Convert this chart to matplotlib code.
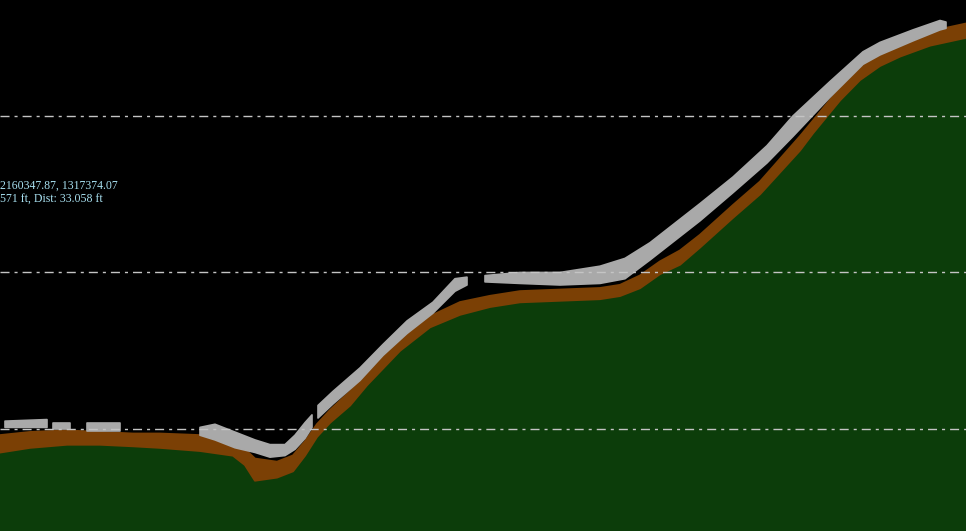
import numpy as np
import matplotlib
matplotlib.use('Agg')
import matplotlib.pyplot as plt

## Profile data (distance along section in ft, elevation in ft)
dist = [0.0, 3.0, 6.7, 10.0, 13.3, 16.0, 20.0, 23.3, 24.5, 25.5, 27.7, 29.3, 30.5,
        31.7, 33.0, 35.0, 36.7, 40.0, 43.0, 46.0, 49.0, 52.0, 56.0, 60.0, 62.0, 64.0,
        66.0, 68.0, 70.0, 73.3, 76.0, 80.0, 81.3, 84.0, 86.0, 88.0, 90.0, 93.0, 96.6]

# top of the terrain surface (green)
ground = [558.5, 558.8, 559.0, 559.0, 558.9, 558.8, 558.6, 558.3, 557.7, 556.7, 556.9,
          557.3, 558.3, 559.5, 560.4, 561.5, 562.8, 565.0, 566.5, 567.3, 567.8, 568.1,
          568.2, 568.3, 568.5, 569.0, 569.9, 570.5, 571.6, 573.5, 575.0, 577.8, 578.9,
          581.0, 582.3, 583.2, 583.8, 584.5, 585.0]

# top of the ground-classified points (brown)
ground_pts_top = [559.6, 559.8, 559.9, 559.8, 559.7, 559.7, 559.6, 559.2, 558.7, 558.1,
                  557.9, 558.3, 559.2, 560.3, 561.2, 562.4, 563.6, 565.9, 567.2, 568.1,
                  568.5, 568.8, 568.9, 569.0, 569.2, 569.8, 570.7, 571.4, 572.4, 574.3,
                  575.8, 578.7, 579.7, 581.8, 583.1, 584.1, 584.8, 585.4, 585.9]

# unclassified / above-ground points (gray), nan = no returns
veg_dist = [0.5, 4.7, 5.0, 5.3, 7.0, 8.0, 8.7, 12.0, 12.5, 20.0, 21.5, 23.5, 25.5, 27.0,
            28.5, 29.5, 30.5, 31.2, 31.5, 31.8, 33.3, 36.0, 38.3, 40.7, 43.3, 45.5, 46.7,
            47.5, 48.5, 52.0, 56.0, 60.0, 62.5, 65.0, 70.0, 73.3, 76.7, 79.3, 83.0, 86.3,
            88.0, 91.3, 94.0, 94.6]
veg_hi = [560.5, 560.6, np.nan, 560.4, 560.4, np.nan, 560.4, 560.4, np.nan, 560.1, 560.3,
          559.8, 559.3, 559.0, 559.0, 559.6, 560.4, 560.9, np.nan, 561.5, 562.4, 563.9,
          565.4, 566.9, 568.1, 569.6, 569.7, np.nan, 569.8, 570.0, 570.0, 570.4, 570.9,
          571.9, 574.4, 576.1, 578.1, 580.0, 582.2, 584.1, 584.7, 585.5, 586.1, 586.0]
veg_lo = [560.1, 560.1, np.nan, 560.0, 560.0, np.nan, 559.9, 559.9, np.nan, 559.6, 559.3,
          558.8, 558.5, 558.2, 558.3, 558.7, 559.4, 560.1, np.nan, 560.7, 561.6, 563.1,
          564.7, 566.1, 567.4, 568.8, 569.2, np.nan, 569.4, 569.3, 569.2, 569.3, 569.6,
          570.8, 573.3, 575.1, 577.0, 578.7, 581.2, 583.3, 583.9, 584.8, 585.5, 585.6]

grid_levels = [560, 570, 580]
coord_text = '2160347.87, 1317374.07'
info_text = '571 ft, Dist: 33.058 ft'

plt.rcParams['lines.scale_dashes'] = False

fig = plt.figure(figsize=(9.66, 5.31), dpi=100, facecolor='black')
ax = fig.add_axes([0, 0, 1, 1])
ax.set_facecolor('black')

ymin, ymax = 553.48, 587.41

# terrain
ax.fill_between(dist, ymin, ground, color='#0c3d0a', linewidth=0, zorder=1)
# ground points
ax.fill_between(dist, ground, ground_pts_top, color='#7b4005', linewidth=1.5,
                edgecolor='#7b4005', zorder=2)
# other points
ax.fill_between(veg_dist, veg_lo, veg_hi, color='#a9a9a9', linewidth=1.2,
                edgecolor='#a9a9a9', zorder=3)

# elevation grid lines
for level in grid_levels:
    ax.axhline(level, color='#c4c4c4', linewidth=1.0, dashes=(6.5, 3.6, 2.2, 3.6), zorder=4)

ax.text(0.0, 0.650, coord_text, transform=ax.transAxes, color='#a8e0f0',
        fontsize=8.5, family='Liberation Serif', va='center', ha='left')
ax.text(0.0, 0.623, info_text, transform=ax.transAxes, color='#a8e0f0',
        fontsize=8.5, family='Liberation Serif', va='center', ha='left')

ax.set_xlim(0, 96.6)
ax.set_ylim(ymin, ymax)
ax.axis('off')

plt.savefig('out.png', dpi=100, facecolor='black')
plt.close()
